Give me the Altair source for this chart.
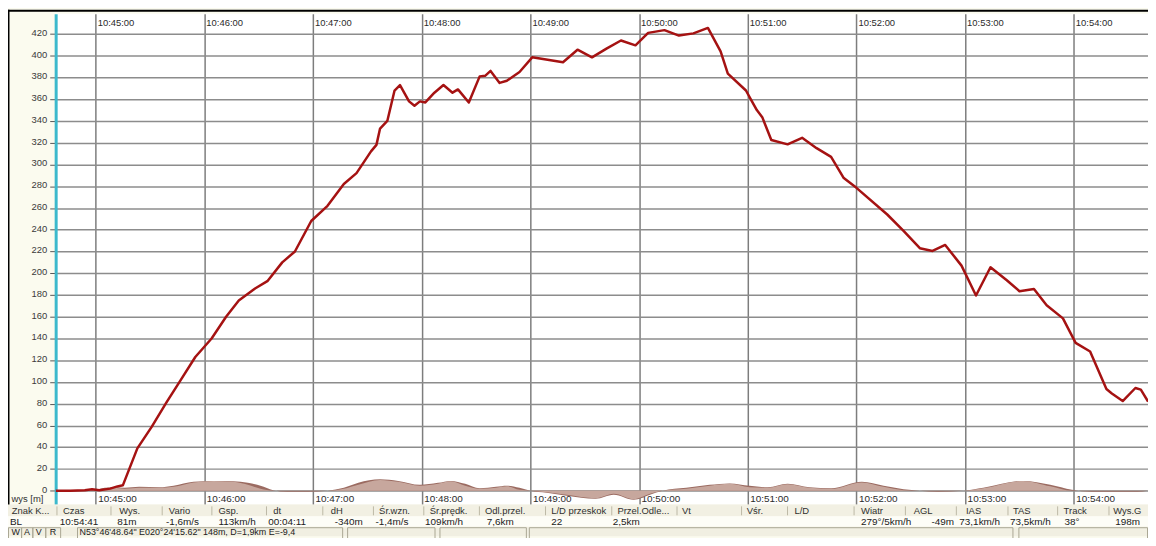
import altair as alt
import pandas as pd

# ---------------- data ----------------
alt_times = ["10:44:38","10:44:46","10:44:54","10:44:58","10:45:02","10:45:08","10:45:12","10:45:15",
 "10:45:23","10:45:31","10:45:39","10:45:47","10:45:55","10:46:04","10:46:12","10:46:19","10:46:28",
 "10:46:35","10:46:43","10:46:50","10:46:59","10:47:08","10:47:17","10:47:24","10:47:32","10:47:35",
 "10:47:37","10:47:41","10:47:45","10:47:48","10:47:53","10:47:56","10:47:59","10:48:02","10:48:07",
 "10:48:12","10:48:17","10:48:20","10:48:26","10:48:32","10:48:35","10:48:38","10:48:43","10:48:47",
 "10:48:54","10:49:01","10:49:18","10:49:26","10:49:34","10:49:42","10:49:50","10:49:58","10:50:05",
 "10:50:14","10:50:22","10:50:30","10:50:38","10:50:45","10:50:49","10:50:59","10:51:02","10:51:05",
 "10:51:08","10:51:13","10:51:22","10:51:30","10:51:38","10:51:46","10:51:53","10:52:00","10:52:17",
 "10:52:26","10:52:35","10:52:42","10:52:49","10:52:58","10:53:06","10:53:14","10:53:23","10:53:30",
 "10:53:38","10:53:45","10:53:54","10:54:01","10:54:09","10:54:18","10:54:21","10:54:27","10:54:34",
 "10:54:37","10:54:41"]
alt_values = [0, 0, 0.5, 1.5, 0.5, 2, 4, 5,
 39, 59, 81, 102, 123, 140, 160, 175, 186,
 193, 210, 220, 248, 262, 282, 292, 312, 318,
 333, 340, 368, 373, 358, 354, 358, 357, 366,
 373, 366, 369, 357, 381, 381.5, 386, 375, 377,
 385, 398.5, 394, 405.5, 398.5, 406.5, 414, 409.5, 421,
 423.5, 418.5, 420.5, 425.5, 404, 383.5, 368, 359, 350,
 343.5, 322.5, 318.5, 324.5, 315, 307, 287.5, 278.5, 254,
 239, 223, 220.5, 226, 207, 179.5, 205.5, 193.5, 183.5,
 185.5, 170.5, 158.5, 136, 128, 93.5, 89.5, 82.5, 94.5,
 93, 82]

vario_times = ["10:44:38","10:44:59","10:45:05","10:45:10","10:45:16","10:45:24","10:45:35","10:45:43",
 "10:45:54","10:46:05","10:46:16","10:46:24","10:46:31","10:46:38","10:46:46","10:46:57","10:47:08",
 "10:47:17","10:47:25","10:47:37","10:47:47","10:47:59","10:48:09","10:48:16","10:48:24","10:48:32",
 "10:48:41","10:48:47","10:48:54","10:49:00","10:49:09","10:49:20","10:49:36","10:49:46","10:49:57",
 "10:50:06","10:50:13","10:50:26","10:50:39","10:50:50","10:51:01","10:51:11","10:51:22","10:51:34",
 "10:51:46","10:52:03","10:52:15","10:52:26","10:52:35","10:52:45","10:52:59","10:53:10","10:53:32",
 "10:53:47","10:53:59","10:54:10","10:54:35","10:54:41"]
vario_dark = [0, 0.5, 2.7, 3.2, 2.7, 3.6, 3.2, 4.6, 8.2, 9.1,
 8.7, 7.3, 4.6, 0.5, -0.9, -0.9, 0, 2.7, 7.3, 10.5,
 9.1, 5.5, 7.3, 9.1, 6.4, 2.3, 3.6, 4.6, 2.7, 0,
 -1.8, -4.6, -7.3, -3.6, -8.2, -3.6, 0, 2.7, 5.5, 6.8,
 4.6, 3.2, 6.4, 3.2, 2.3, 8.2, 4.6, 1.4, 0, -0.9,
 0, 2.7, 9.1, 5.5, 0.9, -0.9, -0.9, 0]
vario_light = [0, 0.5, 1.8, 2.7, 1.8, 2.7, 2.7, 3.6, 7.7, 9.1,
 8.2, 5.5, 1.8, 0, 0, 0, 0, 1.8, 5.5, 10,
 8.2, 4.6, 6.4, 8.7, 4.6, 1.8, 2.7, 4.1, 0.9, 0,
 -1.4, -3.6, -6.8, -2.7, -7.7, -2.7, 0, 1.8, 4.6, 6.4,
 3.2, 2.7, 5.9, 2.7, 1.8, 7.7, 3.6, 0.5, 0, 0,
 0, 2.3, 9.1, 4.1, 0, 0, 0, 0]

minute_ticks = ["10:45:00","10:46:00","10:47:00","10:48:00","10:49:00",
                "10:50:00","10:51:00","10:52:00","10:53:00","10:54:00"]
y_ticks = list(range(0, 421, 20))

header_labels = ["Znak K...", "Czas", "Wys.", "Vario", "Gsp.", "dt", "dH", "Śr.wzn.", "Śr.prędk.",
                 "Odl.przel.", "L/D przeskok", "Przel.Odle...", "Vt", "Vśr.", "L/D", "Wiatr", "AGL",
                 "IAS", "TAS", "Track", "Wys.G"]
row_labels = ["BL", "10:54:41", "81m", "-1,6m/s", "113km/h", "00:04:11", "-340m", "-1,4m/s", "109km/h",
              "7,6km", "22", "2,5km", "279°/5km/h", "-49m", "73,1km/h", "73,5km/h", "38°", "198m"]
status_labels = ["W", "A", "V", "R", "N53°46'48.64\"  E020°24'15.62\" 148m, D=1,9km E=-9,4"]

# ---------------- layout (page pixels) ----------------
PX0, PY0 = 56, 12          # page position of the plot area's top-left corner
header_x = [11.7, 63.3, 120, 170, 220, 275, 333, 381.7, 432.7, 488.3, 555, 621.7, 686.7, 752, 800,
            867, 920, 972.7, 1020, 1071, 1121]
row_x = [10, 60, 118, 167, 220, 270, 337, 378, 428, 490, 555, 617, 867, 938, 966, 1017, 1072, 1123]
sep_x = [57.3, 111.7, 163.3, 213.3, 268.3, 325, 376, 426.7, 482.7, 549.3, 616, 681.7, 746.7, 793,
         860, 911.7, 963, 1015, 1065, 1116.7]
status_x = [11.5, 24, 36, 50, 80]
box_x0 = [8.5, 21.7, 33, 46, 78, 350, 443, 533, 1026]
box_x1 = [21.7, 33, 46, 61, 345, 438, 530, 1020, 1155.5]
# panel bands: (x0, x1, y0, y1, fill)
bands = [(8, 1156, 506, 518, "#f2f0e3"),
         (8, 1156, 518, 528.5, "#fdfdf7"),
         (8, 1156, 528.5, 538, "#f1efe2"),
         (8, 1156, 8, 10, "#000000"),
         (8, 9.5, 8, 506, "#000000")]
HEAD_Y, ROW_Y, STATUS_Y = 512.5, 523.5, 533.5

FONT = "Liberation Sans"
DAY = "2000-01-01T"


def dt(h, m, s=0, ms=0):
    return alt.DateTime(year=2000, month=1, date=1, hours=h, minutes=m, seconds=s, milliseconds=ms)


x_scale = alt.Scale(domain=[dt(10, 44, 37, 910), dt(10, 54, 40, 960)])
y_scale = alt.Scale(domain=[-12.5, 438.5], nice=False, zero=False)

line_df = pd.DataFrame({"time": [DAY + t for t in alt_times], "wys": alt_values})
vario_df = pd.DataFrame({"time": [DAY + t for t in vario_times], "dark": vario_dark,
                         "light": vario_light, "base": [0] * len(vario_times)})
tick_df = pd.DataFrame({"time": [DAY + t for t in minute_ticks]})
one = pd.DataFrame({"k": [0]})

# ---------------- data layers ----------------
dark_area = alt.Chart(vario_df).mark_area(color="#9b6b61", interpolate="monotone").encode(
    x=alt.X("time:T", scale=x_scale, axis=None),
    y=alt.Y("dark:Q", scale=y_scale, axis=None),
    y2="base:Q",
)
light_area = alt.Chart(vario_df).mark_area(color="#c7a79d", interpolate="monotone").encode(
    x=alt.X("time:T", scale=x_scale, axis=None),
    y=alt.Y("light:Q", scale=y_scale, axis=None),
    y2="base:Q",
)

top_labels = alt.Chart(tick_df).mark_text(align="left", baseline="alphabetic", dx=2, font=FONT,
                                          fontSize=9.5, color="#2b2b2b").encode(
    x=alt.X("time:T", scale=x_scale, axis=None),
    y=alt.value(12),
    text=alt.Text("time:T", format="%H:%M:%S"),
)

line = alt.Chart(line_df).mark_line(color="#a51212", strokeWidth=2.5, strokeJoin="round").encode(
    x=alt.X("time:T", scale=x_scale,
            axis=alt.Axis(values=[dt(10, m) for m in range(45, 55)], format="%H:%M:%S", title=None,
                          grid=True, gridColor="#7d7d7d", gridWidth=1.5, domain=False, ticks=False,
                          labelAlign="left", labelBaseline="alphabetic", labelOffset=2, labelPadding=-3,
                          labelFont=FONT, labelFontSize=10, labelColor="#2b2b2b",
                          labelOverlap=False, labelFlush=False)),
    y=alt.Y("wys:Q", scale=y_scale,
            axis=alt.Axis(values=y_ticks, grid=True, gridColor="#8c8c8c", gridWidth=1.5,
                          domainColor="#3cb9cc", domainWidth=3, tickColor="#555555", tickSize=6,
                          tickWidth=1, labelPadding=3, labelFont=FONT, labelFontSize=9.5,
                          labelColor="#3a3a3a", labelBaseline="alphabetic", labelOffset=1.5,
                          labelOverlap=False,
                          title="wys [m]", titleAngle=0, titleAlign="left", titleBaseline="alphabetic",
                          titleX=-45, titleY=491, titleFont=FONT, titleFontSize=9.5,
                          titleFontWeight="normal", titleColor="#333333")),
)

# ---------------- UI frame (pixel-placed decorations) ----------------
deco = []
for x0, x1, y0, y1, fill in bands:
    deco.append(alt.Chart(one).mark_rect(color=fill).encode(
        x=alt.value(x0 - PX0), x2=alt.value(x1 - PX0), y=alt.value(y0 - PY0), y2=alt.value(y1 - PY0)))
for sx in sep_x:
    deco.append(alt.Chart(one).mark_rule(color="#bcb8a5", strokeWidth=1).encode(
        x=alt.value(sx - PX0), y=alt.value(508 - PY0), y2=alt.value(517 - PY0)))
for bx0, bx1 in zip(box_x0, box_x1):
    deco.append(alt.Chart(one).mark_rect(fillOpacity=0, stroke="#a9a693", strokeWidth=1).encode(
        x=alt.value(bx0 - PX0), x2=alt.value(bx1 - PX0),
        y=alt.value(529.5 - PY0), y2=alt.value(541 - PY0)))

texts = []
for lbl, hx in zip(header_labels, header_x):
    texts.append(alt.Chart(one).mark_text(text=lbl, align="left", baseline="middle", font=FONT,
                                          fontSize=9.5, color="#303030").encode(
        x=alt.value(hx - PX0), y=alt.value(HEAD_Y - PY0)))
for lbl, rx in zip(row_labels, row_x):
    texts.append(alt.Chart(one).mark_text(text=lbl, align="left", baseline="middle", font=FONT,
                                          fontSize=10, color="#202020").encode(
        x=alt.value(rx - PX0), y=alt.value(ROW_Y - PY0)))
for lbl, stx in zip(status_labels, status_x):
    texts.append(alt.Chart(one).mark_text(text=lbl, align="left", baseline="middle", font=FONT,
                                          fontSize=9, color="#202020").encode(
        x=alt.value(stx - PX0), y=alt.value(STATUS_Y - PY0)))

chart = alt.layer(
    dark_area, light_area, top_labels, line, *deco, *texts
).resolve_axis(x="independent", y="independent").properties(
    width=1100, height=494,
    autosize=alt.AutoSizeParams(type="none"),
    padding={"left": 48, "top": 4, "right": 0, "bottom": 32},
    background="#fbfbef",
).configure_view(fill="white", strokeWidth=0)

chart.save("out.html", embed_options={"renderer": "svg", "actions": False})
